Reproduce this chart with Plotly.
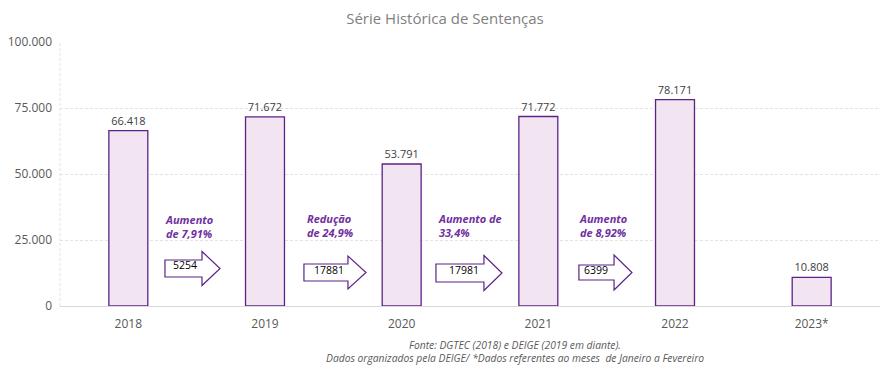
import plotly.graph_objects as go

categories = ["2018", "2019", "2020", "2021", "2022", "2023*"]
sentencas = [66418, 71672, 53791, 71772, 78171, 10808]
y_ticks = [0, 25000, 50000, 75000, 100000]

diff_values = ["5254", "17881", "17981", "6399"]
diff_labels = ["Aumento<br>de 7,91%", "Redução<br>de 24,9%", "Aumento de<br>33,4%", "Aumento<br>de 8,92%"]

# arrow geometry (x in category-index units, y in data units)
arrow_x0 = [0.268, 1.285, 2.251, 3.297]
arrow_x1 = [0.671, 1.739, 2.734, 3.685]
arrow_xh = [0.539, 1.607, 2.602, 3.554]
arrow_yc = [14205, 12689, 12500, 12689]
arrow_body = [3220, 3220, 3400, 2840]
arrow_head = [6440, 6250, 6630, 6630]
num_x = [0.415, 1.47, 2.455, 3.42]
num_y = [15500, 13600, 13600, 13600]
lab_x = [0.25, 1.29, 2.25, 3.28]
lab_y = [30000, 30500, 30500, 30500]

xs = list(range(len(categories)))

fig = go.Figure()
fig.add_trace(go.Bar(
    x=xs, y=sentencas, width=0.285,
    marker=dict(color="#F2E4F0", line=dict(color="#5B2387", width=1.3)),
    text=sentencas, texttemplate="%{y:,d}", textposition="outside",
    textfont=dict(family="Open Sans", size=11, color="#404040"),
    cliponaxis=False, hoverinfo="skip"
))

shapes = []
for x0, x1, xh, yc, bh, hh in zip(arrow_x0, arrow_x1, arrow_xh, arrow_yc, arrow_body, arrow_head):
    path = (f"M {x0},{yc+bh} L {xh},{yc+bh} L {xh},{yc+hh} L {x1},{yc} "
            f"L {xh},{yc-hh} L {xh},{yc-bh} L {x0},{yc-bh} Z")
    shapes.append(dict(type="path", path=path, xref="x", yref="y",
                       fillcolor="white", line=dict(color="#5B2387", width=1.2)))

annotations = []
for t, x, y in zip(diff_values, num_x, num_y):
    annotations.append(dict(x=x, y=y, xref="x", yref="y", text=t, showarrow=False,
                            font=dict(family="Open Sans", size=10.5, color="#000000")))
for t, x, y in zip(diff_labels, lab_x, lab_y):
    annotations.append(dict(x=x, y=y, xref="x", yref="y", text=f"<b><i>{t}</i></b>",
                            showarrow=False, xanchor="left", align="left",
                            font=dict(family="Open Sans", size=11, color="#7030A0")))
annotations.append(dict(
    x=0.555, y=-0.115, xref="paper", yref="paper", xanchor="center", yanchor="top",
    text="<i>Fonte: DGTEC (2018) e DEIGE (2019 em diante).<br>Dados organizados pela DEIGE/ *Dados referentes ao meses  de Janeiro a Fevereiro</i>",
    showarrow=False, align="center",
    font=dict(family="Open Sans", size=10.3, color="#595959")))

fig.update_layout(
    width=890, height=374,
    margin=dict(l=60, r=10, t=42, b=68, autoexpand=False),
    paper_bgcolor="white", plot_bgcolor="white",
    separators=",.",
    title=dict(text="Série Histórica de Sentenças", x=0.5, xanchor="center",
               y=0.95, yanchor="middle",
               font=dict(family="Open Sans", size=15, color="#7F7F7F")),
    showlegend=False,
    shapes=shapes,
    annotations=annotations,
    xaxis=dict(tickvals=xs, ticktext=categories, range=[-0.5, 5.5], automargin=False,
               showgrid=False, zeroline=False, showline=False, ticklabelstandoff=9,
               ticks="", tickfont=dict(family="Open Sans", size=12, color="#595959")),
    yaxis=dict(range=[0, 100000], tickvals=y_ticks, tickformat=",d", automargin=False,
               showgrid=True, gridcolor="#E3E3E3", griddash="3px,2px", gridwidth=1,
               zeroline=True, zerolinecolor="#D9D9D9", zerolinewidth=1,
               showline=False, ticks="", ticklabelstandoff=7,
               tickfont=dict(family="Open Sans", size=12, color="#595959")),
)
fig.add_shape(type="line", xref="paper", yref="paper", x0=0, x1=0, y0=0, y1=1,
              line=dict(color="#E3E3E3", width=1, dash="3px,2px"), layer="below")

fig.write_html("out.html", config={"displayModeBar": False},
               post_script="document.body.style.margin='0';document.body.style.padding='0';")
